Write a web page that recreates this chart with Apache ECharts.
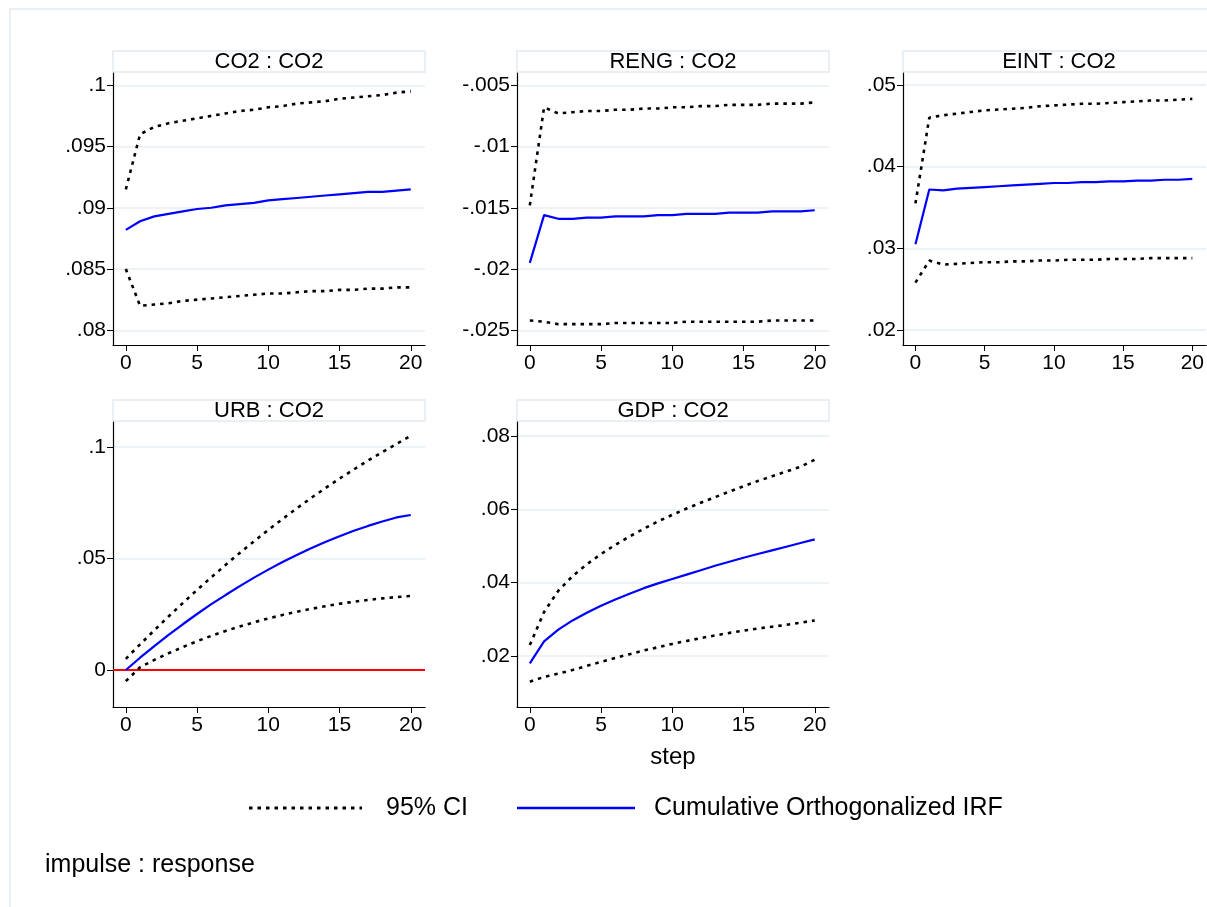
<!DOCTYPE html>
<html><head><meta charset="utf-8">
<script src="https://cdn.jsdelivr.net/npm/echarts@6/dist/echarts.min.js"></script>
<style>html,body{margin:0;padding:0;background:#fff;overflow:hidden}#c{width:1207px;height:907px}</style>
</head><body><div id="c"></div>
<script>
const steps = Array.from({length: 21}, (_, i) => i);
const panelNames = ['CO2 : CO2', 'RENG : CO2', 'EINT : CO2', 'URB : CO2', 'GDP : CO2'];

const co2Up  = [.0915,.0960,.0966,.0969,.0971,.0973,.0975,.0977,.0979,.0980,.0982,.0983,.0985,.0986,.0987,.0989,.0990,.0991,.0992,.0994,.0995];
const co2Irf = [.0882,.0889,.0893,.0895,.0897,.0899,.0900,.0902,.0903,.0904,.0906,.0907,.0908,.0909,.0910,.0911,.0912,.0913,.0913,.0914,.0915];
const co2Lo  = [.0850,.0820,.0821,.0822,.0824,.0825,.0826,.0827,.0828,.0829,.0830,.0830,.0831,.0832,.0832,.0833,.0833,.0834,.0834,.0835,.0835];

const rengUp  = [-.0148,-.0068,-.0073,-.0072,-.0071,-.0071,-.0070,-.0070,-.0069,-.0069,-.0068,-.0068,-.0067,-.0067,-.0066,-.0066,-.0066,-.0065,-.0065,-.0065,-.0064];
const rengIrf = [-.0195,-.0156,-.0159,-.0159,-.0158,-.0158,-.0157,-.0157,-.0157,-.0156,-.0156,-.0155,-.0155,-.0155,-.0154,-.0154,-.0154,-.0153,-.0153,-.0153,-.0152];
const rengLo  = [-.0242,-.0243,-.0245,-.0245,-.0245,-.0245,-.0244,-.0244,-.0244,-.0244,-.0244,-.0243,-.0243,-.0243,-.0243,-.0243,-.0243,-.0242,-.0242,-.0242,-.0242];

const eintUp  = [.0355,.0460,.0463,.0465,.0467,.0469,.0470,.0471,.0472,.0474,.0475,.0476,.0477,.0477,.0478,.0479,.0480,.0481,.0481,.0482,.0483];
const eintIrf = [.0305,.0372,.0371,.0373,.0374,.0375,.0376,.0377,.0378,.0379,.0380,.0380,.0381,.0381,.0382,.0382,.0383,.0383,.0384,.0384,.0385];
const eintLo  = [.0258,.0285,.0280,.0281,.0282,.0283,.0283,.0284,.0284,.0285,.0285,.0286,.0286,.0286,.0287,.0287,.0287,.0288,.0288,.0288,.0288];

const urbUp  = [.005,.0115,.0178,.0240,.0300,.0359,.0416,.0471,.0525,.0577,.0628,.0677,.0725,.0771,.0815,.0858,.0899,.0939,.0977,.1014,.1050];
const urbIrf = [.000,.0055,.0107,.0157,.0205,.0251,.0295,.0336,.0376,.0414,.0450,.0484,.0516,.0546,.0574,.0600,.0624,.0646,.0666,.0684,.0695];
const urbLo  = [-.005,.0012,.0045,.0075,.0103,.0129,.0153,.0175,.0195,.0214,.0231,.0247,.0261,.0274,.0286,.0297,.0306,.0314,.0321,.0327,.0332];

const gdpUp  = [.023,.032,.0378,.0418,.0450,.0478,.0503,.0526,.0547,.0567,.0585,.0602,.0618,.0633,.0648,.0663,.0677,.0690,.0703,.0716,.0735];
const gdpIrf = [.018,.0240,.0272,.0297,.0318,.0337,.0354,.0370,.0385,.0398,.0410,.0422,.0434,.0446,.0457,.0468,.0478,.0488,.0498,.0508,.0518];
const gdpLo  = [.013,.0143,.0152,.0162,.0173,.0184,.0195,.0205,.0215,.0224,.0233,.0241,.0249,.0256,.0263,.0269,.0275,.0280,.0285,.0291,.0297];

const yTicks = [
  [.08,.085,.09,.095,.1],
  [-.025,-.02,-.015,-.01,-.005],
  [.02,.03,.04,.05],
  [0,.05,.1],
  [.02,.04,.06,.08]
];
const xTicks = [0, 5, 10, 15, 20];
const yRange = [[.0788,.101],[-.0262,-.004],[.01816,.05147],[-.0166,.1112],[.0061,.0838]];
const dataSets = [
  [co2Up, co2Irf, co2Lo], [rengUp, rengIrf, rengLo], [eintUp, eintIrf, eintLo],
  [urbUp, urbIrf, urbLo], [gdpUp, gdpIrf, gdpLo]
];

const W = 312;
const lefts = [113, 517, 903, 113, 517];
const tops = [73, 73, 73, 422, 422];
const heights = [272, 272, 272, 285, 285];
const font = 'Liberation Sans, Arial, sans-serif';
const fmt = v => v === 0 ? '0' : String(+v.toFixed(4)).replace('0.', '.');
const dotted = {color: '#000', width: 2.6, type: [3.5, 5]};

const grids = [], xAxes = [], yAxes = [], series = [], graphics = [];
for (let i = 0; i < 5; i++) {
  grids.push({left: lefts[i], top: tops[i], width: W, height: heights[i]});
  xAxes.push({
    type: 'value', gridIndex: i, min: -0.9, max: 21,
    name: i === 4 ? 'step' : '', nameLocation: 'middle', nameGap: 38,
    nameTextStyle: {fontFamily: font, fontSize: 24, color: '#000'},
    axisLine: {show: true, onZero: false, lineStyle: {color: '#000', width: 1.2}},
    axisTick: {show: true, length: 6, customValues: xTicks, lineStyle: {color: '#000'}},
    axisLabel: {customValues: xTicks, fontFamily: font, fontSize: 21, color: '#000', margin: 8},
    splitLine: {show: false}
  });
  yAxes.push({
    type: 'value', gridIndex: i, min: yRange[i][0], max: yRange[i][1],
    axisLine: {show: true, onZero: false, lineStyle: {color: '#000', width: 1.2}},
    axisTick: {show: true, length: 6, customValues: yTicks[i], lineStyle: {color: '#000'}},
    axisLabel: {customValues: yTicks[i], formatter: fmt, fontFamily: font, fontSize: 21, color: '#000', margin: 7},
    splitLine: {show: true, lineStyle: {color: '#e6eef2', width: 1.5}}
  });
  const [up, irf, lo] = dataSets[i];
  const pair = arr => steps.map((s, k) => [s, arr[k]]);
  series.push(
    {name: '95% CI', type: 'line', xAxisIndex: i, yAxisIndex: i, data: pair(up), symbol: 'none', lineStyle: dotted, z: 3},
    {name: '95% CI', type: 'line', xAxisIndex: i, yAxisIndex: i, data: pair(lo), symbol: 'none', lineStyle: dotted, z: 3},
    {name: 'Cumulative Orthogonalized IRF', type: 'line', xAxisIndex: i, yAxisIndex: i, data: pair(irf), symbol: 'none',
     lineStyle: {color: '#0000ff', width: 2.2}, z: 4}
  );
  if (i === 3) {
    series.push({type: 'line', xAxisIndex: 3, yAxisIndex: 3, data: [[-0.9, 0], [21, 0]], symbol: 'none',
      lineStyle: {color: '#ff0000', width: 2}, z: 2, silent: true});
  }
  graphics.push(
    {type: 'rect', shape: {x: lefts[i], y: tops[i] - 22, width: W, height: 21},
     style: {fill: '#fff', stroke: '#e2eaee', lineWidth: 1.5}},
    {type: 'text', x: lefts[i] + W / 2, y: tops[i] - 11,
     style: {text: panelNames[i], fontFamily: font, fontSize: 22, fill: '#000', align: 'center', verticalAlign: 'middle'}}
  );
}
graphics.push(
  {type: 'rect', shape: {x: 10, y: 9, width: 1300, height: 1000}, style: {fill: 'none', stroke: '#e2eaee', lineWidth: 1.5}, z: -1},
  // legend
  {type: 'line', shape: {x1: 249, y1: 808, x2: 362, y2: 808}, style: {stroke: '#000', lineWidth: 2.8, lineDash: [3.5, 5]}},
  {type: 'text', x: 386, y: 808, style: {text: '95% CI', fontFamily: font, fontSize: 25, fill: '#000', verticalAlign: 'middle'}},
  {type: 'line', shape: {x1: 517, y1: 808, x2: 635, y2: 808}, style: {stroke: '#0000ff', lineWidth: 2.4}},
  {type: 'text', x: 654, y: 808, style: {text: 'Cumulative Orthogonalized IRF', fontFamily: font, fontSize: 25, fill: '#000', verticalAlign: 'middle'}},
  {type: 'text', x: 45, y: 865, style: {text: 'impulse : response', fontFamily: font, fontSize: 25, fill: '#000', verticalAlign: 'middle'}}
);

const chart = echarts.init(document.getElementById('c'));
chart.setOption({
  backgroundColor: '#fff',
  animation: false,
  grid: grids, xAxis: xAxes, yAxis: yAxes, series: series,
  graphic: graphics
});
</script></body></html>
